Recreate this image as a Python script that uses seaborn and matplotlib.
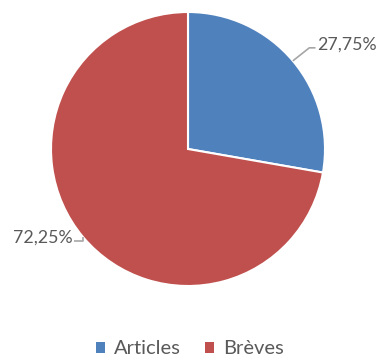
import numpy as np
import matplotlib
matplotlib.use("Agg")
import matplotlib.pyplot as plt
import seaborn as sns

categories = ["Articles", "Brèves"]
values = [27.75, 72.25]
labels = ["27,75%", "72,25%"]
colors = ["#4F81BD", "#C0504D"]

sns.set_theme(style="white")
plt.rcParams["font.family"] = ["Lato", "DejaVu Sans"]

fig = plt.figure(figsize=(3.8, 3.6), dpi=100)
W, H = 380, 360
cx, cy, r = 188, 149, 137
ax = fig.add_axes([(cx - r) / W, (H - cy - r) / H, 2 * r / W, 2 * r / H])

wedges, _ = ax.pie(values, colors=sns.color_palette(colors), startangle=90,
                   counterclock=False, radius=1,
                   wedgeprops=dict(edgecolor="white", linewidth=1.5))
ax.set_xlim(-1, 1)
ax.set_ylim(-1, 1)
ax.set_aspect("equal")
ax.axis("off")

grey = "#595959"
line_c = "#A6A6A6"
for w, lab in zip(wedges, labels):
    mid = np.deg2rad((w.theta1 + w.theta2) / 2)
    ex, ey = np.cos(mid), np.sin(mid)
    if ex > 0:
        elbow = (ex + 0.12, ey + 0.095)
        end = (elbow[0] + 0.045, elbow[1])
        ax.plot([ex, elbow[0], end[0]], [ey, elbow[1], end[1]], color=line_c, lw=1.2,
                clip_on=False, solid_capstyle="butt")
        ax.text(end[0] + 0.01, end[1] - 0.01, lab, ha="left", va="baseline",
                fontsize=12.8, color=grey)
    else:
        elbow = (ex - 0.0, ey - 0.03)
        end = (elbow[0] - 0.07, elbow[1])
        ax.plot([ex, elbow[0], end[0]], [ey, elbow[1], end[1]], color=line_c, lw=1.2,
                clip_on=False, solid_capstyle="butt")
        ax.text(end[0] - 0.01, end[1] - 0.01, lab, ha="right", va="baseline",
                fontsize=12.8, color=grey)

leg = fig.legend(wedges, categories, loc="center", bbox_to_anchor=(0.5, 1 - 349 / H),
                 ncol=2, frameon=False, fontsize=14.5, handlelength=0.45, handleheight=0.45,
                 handletextpad=0.45, columnspacing=1.2, labelcolor=grey)
for h in leg.legend_handles:
    h.set_edgecolor("none")

fig.savefig("out.png", dpi=100)
